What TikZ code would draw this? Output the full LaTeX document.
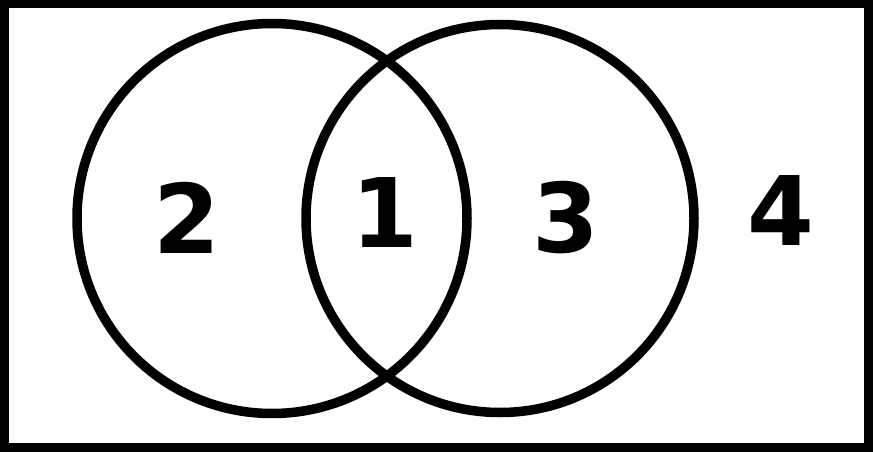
\documentclass[tikz,border=0pt]{standalone}
\usepackage{fontspec}
\setmainfont{DejaVu Sans}
\begin{document}
\begin{tikzpicture}[x=1pt,y=-1pt,
  setline/.style={line width=9.5pt,draw=black},
  region/.style={font=\fontsize{96}{96}\selectfont\bfseries,inner sep=0pt,anchor=center}]
\useasboundingbox (0,0) rectangle (873,452);
\fill[white] (0,0) rectangle (873,452);
\draw[line width=9pt] (4.5,4) rectangle (868,447.5);
\node[setline,circle,minimum size=390pt,inner sep=0pt] (A) at (272,218.5) {};
\node[setline,circle,minimum size=388pt,inner sep=0pt] (B) at (500,218.5) {};
\node[region] (r2) at (187,218) {2};
\node[region] (r1) at (385,213) {1};
\node[region] (r3) at (566,218) {3};
\node[region] (r4) at (781,211) {4};
\end{tikzpicture}
\end{document}
